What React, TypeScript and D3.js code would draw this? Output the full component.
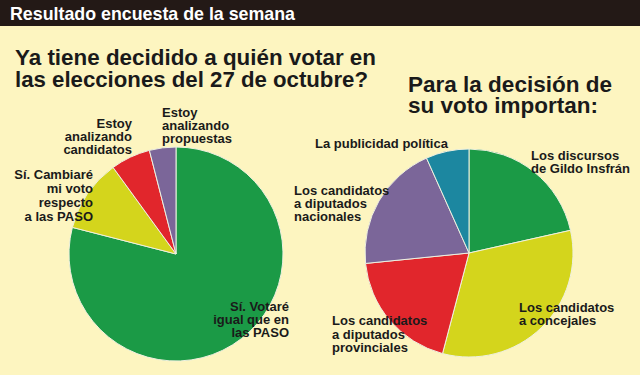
import React from "react";
import * as d3 from "d3";

const headerTitle = "Resultado encuesta de la semana";
const leftHeading = ["Ya tiene decidido a quién votar en", "las elecciones del 27 de octubre?"];
const rightHeading = ["Para la decisión de", "su voto importan:"];

const voteCategories = [
  "Sí. Votaré igual que en las PASO",
  "Sí. Cambiaré mi voto respecto a las PASO",
  "Estoy analizando candidatos",
  "Estoy analizando propuestas",
];
const voteValues = [79, 11, 6, 4];
const voteLabelLines = [
  ["Sí. Votaré", "igual que en", "las PASO"],
  ["Sí. Cambiaré", "mi voto", "respecto", "a las PASO"],
  ["Estoy", "analizando", "candidatos"],
  ["Estoy", "analizando", "propuestas"],
];

const factorCategories = [
  "Los discursos de Gildo Insfrán",
  "Los candidatos a concejales",
  "Los candidatos a diputados provinciales",
  "Los candidatos a diputados nacionales",
  "La publicidad política",
];
const factorValues = [21.5, 32.6, 19.3, 19.9, 6.7];
const factorLabelLines = [
  ["Los discursos", "de Gildo Insfrán"],
  ["Los candidatos", "a concejales"],
  ["Los candidatos", "a diputados", "provinciales"],
  ["Los candidatos", "a diputados", "nacionales"],
  ["La publicidad política"],
];

// layout (not data)
const voteColors = ["#1b9a46", "#d4d51c", "#e1262c", "#7b6699"];
const factorColors = ["#1b9a46", "#d4d51c", "#e1262c", "#7b6699", "#1c87a0"];
const voteLabelLayout = [
  { x: 289, y: 311, lh: 13, anchor: "end" },
  { x: 93, y: 179, lh: 14, anchor: "end" },
  { x: 132, y: 128, lh: 13, anchor: "end" },
  { x: 162, y: 117, lh: 13, anchor: "start" },
];
const factorLabelLayout = [
  { x: 531, y: 160, lh: 12.5, anchor: "start" },
  { x: 519, y: 312, lh: 13, anchor: "start" },
  { x: 332, y: 325, lh: 13.5, anchor: "start" },
  { x: 294, y: 195, lh: 13, anchor: "start" },
  { x: 315, y: 148, lh: 13, anchor: "start" },
];

const FONT = "'Liberation Sans', Arial, Helvetica, sans-serif";
const TEXT = "#1a1a1a";

type LabelLayout = { x: number; y: number; lh: number; anchor: string };

function Pie(props: {
  cx: number;
  cy: number;
  r: number;
  values: number[];
  categories: string[];
  colors: string[];
  lines: string[][];
  layout: LabelLayout[];
}) {
  const { cx, cy, r, values, categories, colors, lines, layout } = props;
  const pie = d3.pie<number>().sort(null).value((d) => d);
  const arcs = pie(values);
  const arc = d3.arc<d3.PieArcDatum<number>>().innerRadius(0).outerRadius(r);
  return (
    <g>
      <g transform={`translate(${cx},${cy})`}>
        {arcs.map((a, i) => (
          <path
            key={categories[i]}
            d={arc(a) || ""}
            fill={colors[i]}
            stroke="#eef0e0"
            strokeWidth={1}
          />
        ))}
      </g>
      {lines.map((ls, i) => (
        <text
          key={"l" + i}
          fontFamily={FONT}
          fontWeight="bold"
          fontSize={13}
          fill={TEXT}
          textAnchor={layout[i].anchor as any}
        >
          {ls.map((t, j) => (
            <tspan key={j} x={layout[i].x} y={layout[i].y + j * layout[i].lh}>
              {t}
            </tspan>
          ))}
        </text>
      ))}
    </g>
  );
}

export default function App() {
  return (
    <svg
      width={640}
      height={375}
      style={{ position: "absolute", left: 0, top: 0, display: "block" }}
    >
      <rect x={0} y={0} width={640} height={375} fill="#fdf5c0" />
      <rect x={0} y={0} width={640} height={26} fill="#231916" />
      <text
        x={10}
        y={20}
        fontFamily={FONT}
        fontWeight="bold"
        fontSize={19}
        fill="#ffffff"
        textLength={285}
        lengthAdjust="spacingAndGlyphs"
      >
        {headerTitle}
      </text>

      <text fontFamily={FONT} fontWeight="bold" fontSize={22.5} fill={TEXT}>
        <tspan x={15} y={65} textLength={361} lengthAdjust="spacingAndGlyphs">
          {leftHeading[0]}
        </tspan>
        <tspan x={15} y={87} textLength={353} lengthAdjust="spacingAndGlyphs">
          {leftHeading[1]}
        </tspan>
      </text>
      <text fontFamily={FONT} fontWeight="bold" fontSize={22.5} fill={TEXT}>
        <tspan x={408} y={92} textLength={204} lengthAdjust="spacingAndGlyphs">
          {rightHeading[0]}
        </tspan>
        <tspan x={408} y={113} textLength={190} lengthAdjust="spacingAndGlyphs">
          {rightHeading[1]}
        </tspan>
      </text>

      <Pie
        cx={176}
        cy={254}
        r={107}
        values={voteValues}
        categories={voteCategories}
        colors={voteColors}
        lines={voteLabelLines}
        layout={voteLabelLayout}
      />
      <Pie
        cx={469}
        cy={253}
        r={104}
        values={factorValues}
        categories={factorCategories}
        colors={factorColors}
        lines={factorLabelLines}
        layout={factorLabelLayout}
      />
    </svg>
  );
}
